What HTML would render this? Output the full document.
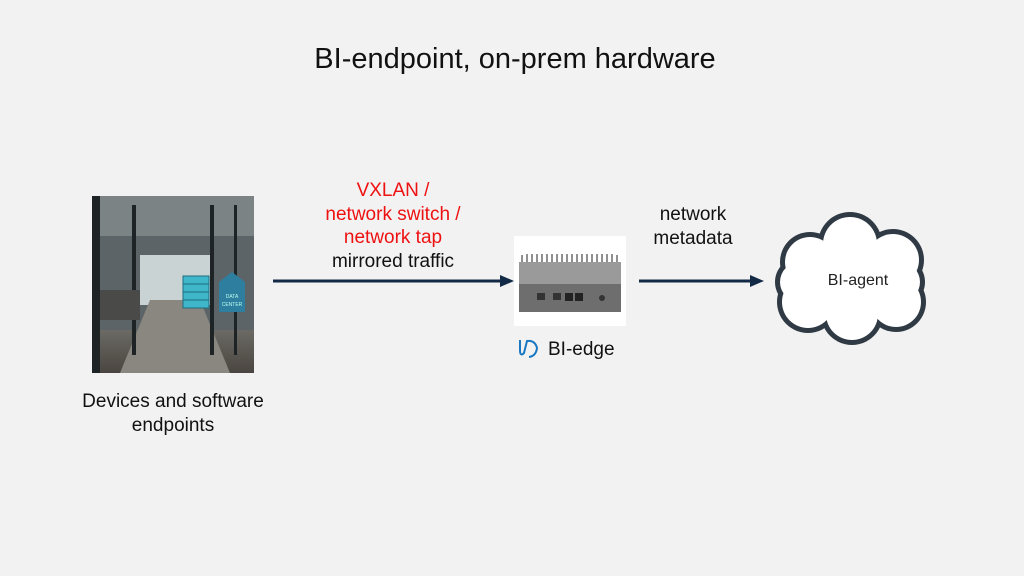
<!DOCTYPE html>
<html><head><style>
html,body{margin:0;padding:0}
body{width:1024px;height:576px;background:#f2f2f2;position:relative;overflow:hidden;font-family:"Liberation Sans",sans-serif}
.t{position:absolute;text-align:center;white-space:nowrap}
</style></head><body>
<div class="t" style="left:0;width:1030px;top:43px;font-size:29px;color:#111">BI-endpoint, on-prem hardware</div>

<svg width="1024" height="576" style="position:absolute;left:0;top:0">
<defs>
<linearGradient id="fl" x1="0" y1="0" x2="0" y2="1"><stop offset="0" stop-color="#6b6a64"/><stop offset="1" stop-color="#4a4540"/></linearGradient>
</defs>
<rect x="92" y="196" width="162" height="177" fill="#5c6467"/>
<rect x="92" y="196" width="162" height="40" fill="#7c8384"/>
<rect x="140" y="255" width="70" height="50" fill="#c9d3d4"/>
<polygon points="92,330 254,330 254,373 92,373" fill="url(#fl)"/>
<polygon points="150,300 200,300 230,373 120,373" fill="#8a8781"/>
<rect x="92" y="196" width="8" height="177" fill="#1e2325"/>
<rect x="132" y="205" width="4" height="150" fill="#1e2325"/>
<rect x="210" y="205" width="4" height="150" fill="#1e2325"/>
<rect x="234" y="205" width="3" height="150" fill="#1e2325"/>
<rect x="100" y="290" width="40" height="30" fill="#4a4a48"/>
<rect x="183" y="276" width="26" height="32" fill="#3fb6c9" stroke="#1d6e80"/>
<line x1="183" y1="284" x2="209" y2="284" stroke="#1d6e80"/><line x1="183" y1="292" x2="209" y2="292" stroke="#1d6e80"/><line x1="183" y1="300" x2="209" y2="300" stroke="#1d6e80"/>
<polygon points="219,282 232,272 245,282 245,312 219,312" fill="#2e7ea0"/>
<text x="232" y="298" font-size="5" fill="#bfe" text-anchor="middle" font-family="Liberation Sans">DATA</text>
<text x="232" y="306" font-size="5" fill="#bfe" text-anchor="middle" font-family="Liberation Sans">CENTER</text>

<line x1="273" y1="281" x2="504" y2="281" stroke="#132a47" stroke-width="3"/>
<polygon points="514,281 500,275 500,287" fill="#132a47"/>
<line x1="639" y1="281" x2="752" y2="281" stroke="#132a47" stroke-width="3"/>
<polygon points="764,281 750,275 750,287" fill="#132a47"/>

<rect x="514" y="236" width="112" height="90" fill="#fff"/>
<rect x="519" y="262" width="102" height="22" fill="#9a9a9a"/>
<g stroke="#6a6a6a" stroke-width="1.5">
<line x1="522" y1="262" x2="522" y2="255"/><line x1="527" y1="262" x2="527" y2="254"/><line x1="532" y1="262" x2="532" y2="254"/><line x1="537" y1="262" x2="537" y2="254"/><line x1="542" y1="262" x2="542" y2="254"/><line x1="547" y1="262" x2="547" y2="254"/><line x1="552" y1="262" x2="552" y2="254"/><line x1="557" y1="262" x2="557" y2="254"/><line x1="562" y1="262" x2="562" y2="254"/><line x1="567" y1="262" x2="567" y2="254"/><line x1="572" y1="262" x2="572" y2="254"/><line x1="577" y1="262" x2="577" y2="254"/><line x1="582" y1="262" x2="582" y2="254"/><line x1="587" y1="262" x2="587" y2="254"/><line x1="592" y1="262" x2="592" y2="254"/><line x1="597" y1="262" x2="597" y2="254"/><line x1="602" y1="262" x2="602" y2="254"/><line x1="607" y1="262" x2="607" y2="254"/><line x1="612" y1="262" x2="612" y2="254"/><line x1="617" y1="262" x2="617" y2="255"/>
</g>
<rect x="519" y="284" width="102" height="28" fill="#6e6e6e"/>
<rect x="537" y="293" width="8" height="7" fill="#333"/><rect x="553" y="293" width="8" height="7" fill="#333"/>
<rect x="565" y="293" width="8" height="8" fill="#222"/><rect x="575" y="293" width="8" height="8" fill="#222"/>
<circle cx="602" cy="298" r="3" fill="#333"/>
<path d="M520 340 L520 350 Q520 357 524 353 L527 341 Q535 340 537 348 Q536 356 529 357" fill="none" stroke="#1a78c2" stroke-width="2"/>

<g fill="#2f3a44">
<circle cx="810" cy="262" r="30"/><circle cx="850" cy="244" r="32"/><circle cx="893" cy="260" r="31"/>
<circle cx="896" cy="302" r="30"/><circle cx="852" cy="314" r="31"/><circle cx="808" cy="302" r="31"/>
<circle cx="800" cy="282" r="25"/><circle cx="900" cy="282" r="25"/>
</g>
<g fill="#fff">
<circle cx="810" cy="262" r="25"/><circle cx="850" cy="244" r="27"/><circle cx="893" cy="260" r="26"/>
<circle cx="896" cy="302" r="25"/><circle cx="852" cy="314" r="26"/><circle cx="808" cy="302" r="26"/>
<circle cx="800" cy="282" r="20"/><circle cx="900" cy="282" r="20"/>
<rect x="800" y="255" width="100" height="55"/>
</g>
</svg>

<div class="t" style="left:293px;width:200px;top:179px;font-size:19px;line-height:23.5px;color:#111"><span style="color:#ee1111">VXLAN /<br>network switch /<br>network tap</span><br>mirrored traffic</div>
<div class="t" style="left:640px;width:106px;top:203px;font-size:19px;line-height:23.5px;color:#111">network<br>metadata</div>
<div class="t" style="left:548px;top:339px;font-size:19px;color:#111">BI-edge</div>
<div class="t" style="left:808px;width:100px;top:272px;font-size:16px;color:#222">BI-agent</div>
<div class="t" style="left:73px;width:200px;top:390px;font-size:19px;line-height:23.5px;color:#111">Devices and software<br>endpoints</div>
</body></html>
